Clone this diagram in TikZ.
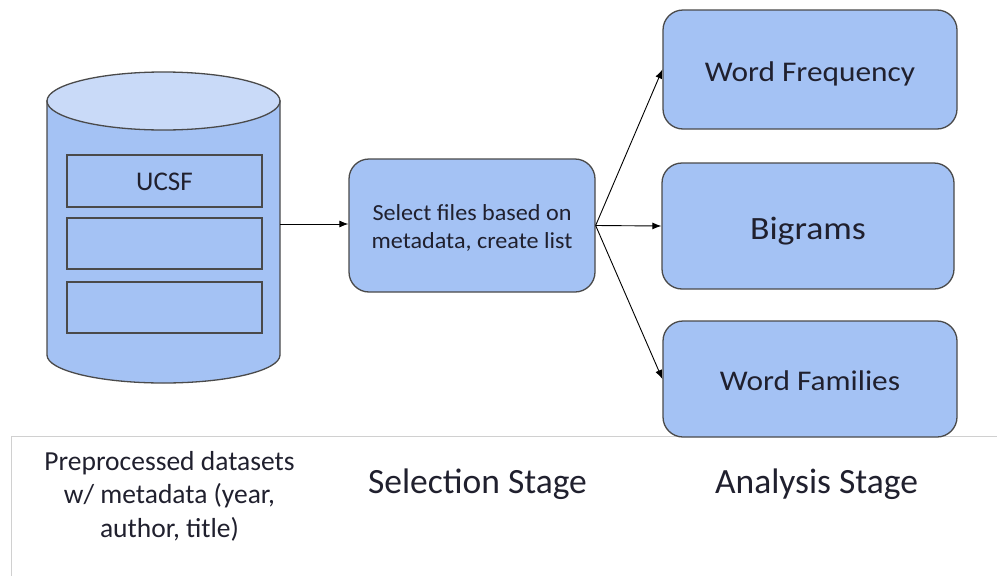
\documentclass[tikz,border=0pt]{standalone}
\usepackage{fontspec}
\setmainfont{Carlito}
\newfontfamily\boxfont[FakeStretch=1.1]{Carlito}
\newfontfamily\selfont[FakeStretch=1.05]{Carlito}
\usetikzlibrary{arrows.meta}
\definecolor{boxblue}{HTML}{A4C2F4}
\definecolor{topblue}{HTML}{C9DAF8}
\definecolor{edgegray}{HTML}{4A4A4A}
\definecolor{txt}{HTML}{20202E}
\definecolor{rulegray}{HTML}{D0D0D0}
\tikzset{
  procbox/.style={draw=edgegray, fill=boxblue, line width=1.3pt, rounded corners=20pt, inner sep=0pt, text=txt},
  slotbox/.style={draw=edgegray, fill=boxblue, line width=1.2pt, inner sep=0pt, text=txt},
  conn/.style={draw=black, line width=0.9pt, -{Latex[length=9pt,width=7pt]}},
  caption/.style={text=txt, inner sep=0pt, align=center}
}
\begin{document}
\begin{tikzpicture}[x=1pt,y=-1pt]
\useasboundingbox (0,0) rectangle (997,576);
% separator rules
\draw[rulegray, line width=1pt] (11,436) -- (997,436);
\draw[rulegray, line width=1pt] (11,436) -- (11,576);
% cylinder
\draw[edgegray, fill=boxblue, line width=1.3pt]
  (47,101) -- (47,355) arc[start angle=180, end angle=0, x radius=116.5, y radius=28] -- (280,101) -- cycle;
\draw[edgegray, fill=topblue, line width=1.3pt] (163.5,101) ellipse[x radius=116.5, y radius=29];
\coordinate (cylR) at (280,224);
% slots
\node[slotbox, minimum width=195pt, minimum height=52pt, text height=19pt, text depth=0pt, font=\fontsize{27}{32}\selectfont] (slot1) at (164.5,181) {UCSF};
\node[slotbox, minimum width=195pt, minimum height=51pt] (slot2) at (164.5,243.5) {};
\node[slotbox, minimum width=195pt, minimum height=51pt] (slot3) at (164.5,307.5) {};
% selection box
\node[procbox, minimum width=246pt, minimum height=133pt, align=center,
      font=\selfont\fontsize{23}{28}\selectfont] (sel) at (472,225.5) {\rule{0pt}{20pt}Select files based on\\metadata, create list};
% analysis boxes
\node[procbox, minimum width=294pt, minimum height=119pt, text height=24pt, text depth=0pt, font=\boxfont\fontsize{28.5}{34}\selectfont] (wf) at (810,69.5) {Word Frequency};
\node[procbox, minimum width=292pt, minimum height=126pt, text height=27pt, text depth=0pt, font=\boxfont\fontsize{32.5}{38}\selectfont] (bg) at (808,226) {Bigrams};
\node[procbox, minimum width=294pt, minimum height=116pt, text height=23pt, text depth=0pt, font=\boxfont\fontsize{28.5}{34}\selectfont] (wfam) at (810,379) {Word Families};
% connectors
\draw[conn] (cylR) -- (sel.west |- cylR);
\draw[conn] (sel.east) -- (wf.west);
\draw[conn] (sel.east) -- (bg.west);
\draw[conn] (sel.east) -- (wfam.west);
% captions
\node[caption, font=\fontsize{27.5}{33.5}\selectfont] (cap1) at (169.5,496) {Preprocessed datasets\\w/ metadata (year,\\author, title)};
\node[caption, anchor=base, font=\fontsize{35.5}{40}\selectfont] (cap2) at (477.5,493) {Selection Stage};
\node[caption, anchor=base, font=\fontsize{35.5}{40}\selectfont] (cap3) at (816.5,493) {Analysis Stage};
\end{tikzpicture}
\end{document}
